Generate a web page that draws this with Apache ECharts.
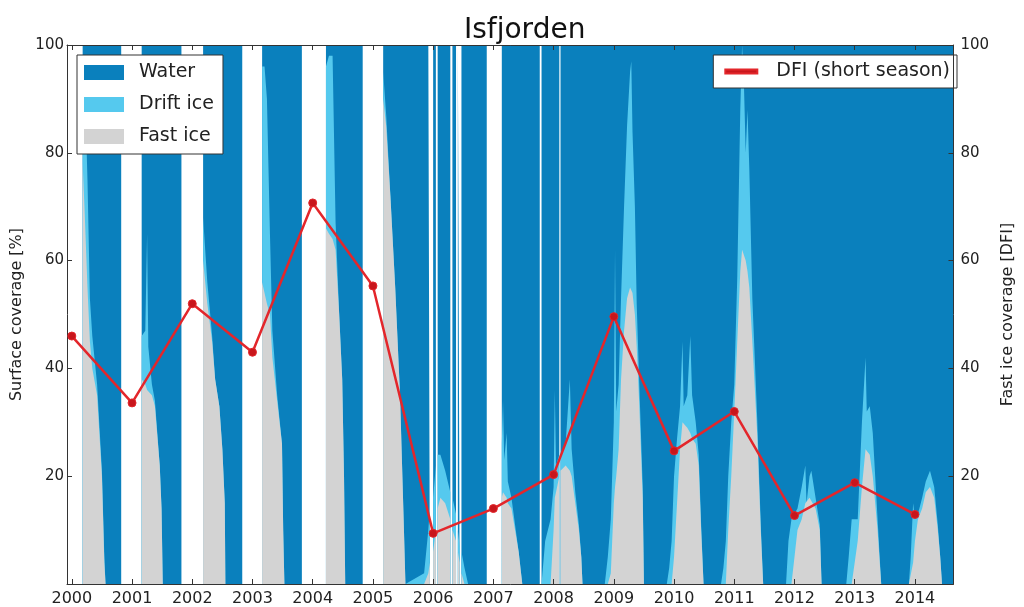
<!DOCTYPE html>
<html><head><meta charset="utf-8">
<script src="https://cdn.jsdelivr.net/npm/echarts@6/dist/echarts.min.js"></script>
<style>html,body{margin:0;padding:0;background:#fff}#c{width:1024px;height:607px}</style>
</head><body><div id="c"></div>
<script>
// ---- data ----
const yearTicks = [2000,2001,2002,2003,2004,2005,2006,2007,2008,2009,2010,2011,2012,2013,2014];
const yTicks = [0,20,40,60,80,100];
const dfiYears = [2000,2001,2002,2003,2004,2005,2006,2007,2008,2009,2010,2011,2012,2013,2014];
const dfiValues = [46,33.6,52,43,70.7,55.3,9.4,14,20.3,49.6,24.7,32,12.7,18.8,12.9];

// time (decimal year), fast ice %, drift ice % ; null = no observation
const t = [
2000.18,2000.21,2000.26,2000.30,2000.34,2000.42,2000.50,2000.54,2000.56,2000.82,2001.00,
2001.16,2001.22,2001.25,2001.27,2001.33,2001.38,2001.46,2001.49,2001.51,2001.82,2002.00,
2002.18,2002.25,2002.33,2002.38,2002.45,2002.50,2002.54,2002.55,2002.83,2003.00,
2003.16,2003.20,2003.24,2003.29,2003.33,2003.41,2003.49,2003.51,2003.53,2003.82,2004.00,
2004.22,2004.27,2004.33,2004.38,2004.44,2004.49,2004.52,2004.54,2004.83,2005.00,
2005.17,2005.22,2005.29,2005.37,2005.45,2005.51,2005.54,2005.85,2005.92,2005.945,2005.97,
2006.00,2006.045,2006.06,2006.075,2006.12,2006.20,2006.285,2006.30,2006.32,2006.38,2006.395,
2006.41,2006.44,2006.455,2006.47,2006.52,2006.58,2006.89,2006.93,2006.985,2006.995,2007.07,
2007.14,2007.16,2007.18,2007.22,2007.24,2007.30,2007.36,2007.42,2007.46,2007.48,2007.77,2007.785,
2007.80,2007.86,2007.95,2008.00,2008.02,2008.04,2008.095,2008.105,2008.115,2008.20,2008.27,2008.30,
2008.36,2008.42,2008.46,2008.48,2008.85,2008.90,2008.95,
2009.00,2009.02,2009.04,2009.08,2009.12,2009.17,2009.22,2009.27,2009.29,2009.31,2009.35,2009.38,
2009.42,2009.48,2009.50,2009.88,2009.92,2009.96,
2010.00,2010.05,2010.10,2010.14,2010.16,2010.22,2010.27,2010.30,2010.36,2010.41,2010.45,2010.49,
2010.78,2010.82,2010.86,2010.90,2010.95,
2011.00,2011.05,2011.10,2011.13,2011.16,2011.19,2011.22,2011.25,2011.30,2011.38,2011.44,2011.48,
2011.86,2011.90,2011.95,
2012.05,2012.12,2012.18,2012.20,2012.25,2012.28,2012.35,2012.42,2012.45,
2012.86,2012.90,2012.95,
2013.05,2013.12,2013.18,2013.20,2013.25,2013.30,2013.38,2013.44,
2013.90,2013.93,2013.97,
2014.00,2014.05,2014.12,2014.18,2014.25,2014.32,2014.38,2014.42,2014.45,2014.64
];
const fastIce = [
78,70,55,45,40,35,20,4,0,0,null,
38,37,36,36,35,33,22,14,0,0,null,
60,52,45,38,33,25,15,0,0,null,
56,54,52,50,42,34,26,10,0,0,null,
66,65,64,62,50,38,20,0,0,null,
90,85,72,55,35,12,0,0,2,4,null,
6,10,null,14,16,15,12,null,10,8,null,
6,4,null,2,0,0,0,null,0,0,null,
16,17,17,16,15,14,10,6,2,0,0,null,
0,0,0,10,16,17,20,null,21,22,21,20,
15,10,5,0,0,0,2,
15,18,20,25,38,47,53,55,55,54,50,44,
34,16,0,0,0,0,
5,15,25,30,30,29,28,27,26,22,10,0,
0,0,0,10,20,
32,45,58,62,62,60,58,55,45,28,10,0,
0,0,0,
10,12,15,15,16,16,14,10,0,
0,0,0,
8,18,25,25,24,20,10,0,
0,0,4,
8,12,14,17,18,16,10,5,0,0
];
const driftIce = [
20,25,20,8,6,2,1,1,0,0,null,
8,10,29,8,2,1,0,0,0,0,null,
8,4,1,0,0,0,0,0,0,null,
40,42,38,15,5,1,0,0,0,0,null,
30,33,34,5,0,0,0,0,0,null,
5,2,0,0,0,0,0,2,8,10,null,
10,12,null,10,8,6,5,null,6,5,null,
4,3,null,4,3,0,0,null,0,0,null,
10,17,6,12,4,2,1,0,0,0,0,null,
0,8,12,8,20,5,4,null,3,4,17,5,
2,1,0,0,0,5,10,
15,44,12,12,15,23,32,40,42,30,20,8,
4,2,0,0,3,8,
15,12,8,15,3,6,18,8,4,2,1,0,
0,3,8,10,10,
5,12,30,38,31,20,30,22,8,3,1,0,
0,8,12,
4,6,7,0,4,5,2,1,0,
0,5,12,
4,12,17,7,9,8,2,0,
0,5,11,
4,1,2,2,3,2,1,0,0,0
];

// ---- derived series (stacked by hand: fast, fast+drift, 100) ----
const waterSeries = t.map((x,i)=>[x, fastIce[i]==null ? '-' : 100]);
const driftSeries = t.map((x,i)=>[x, fastIce[i]==null ? '-' : fastIce[i] + driftIce[i]]);
const fastSeries  = t.map((x,i)=>[x, fastIce[i]==null ? '-' : fastIce[i]]);
const dfiSeries   = dfiYears.map((y,i)=>[y, dfiValues[i]]);

const FONT = 'DejaVu Sans';
const C_WATER = '#0a80bd', C_DRIFT = '#55c9ee', C_FAST = '#d3d3d3', C_RED = '#e3262b';

const areaSeries = (name, data, color, z) => ({
  name, type:'line', data, xAxisIndex:0, yAxisIndex:0,
  symbol:'none', showSymbol:false, connectNulls:false, silent:true,
  lineStyle:{width:0, color}, itemStyle:{color}, areaStyle:{color, opacity:1}, z
});

const xCommon = {
  type:'value', min:1999.92, max:2014.64, splitLine:{show:false}, z:6,
  axisLine:{show:true, onZero:false, lineStyle:{color:'#333', width:1}}
};

const chart = echarts.init(document.getElementById('c'), null, {renderer:'canvas'});
chart.setOption({
  animation:false,
  backgroundColor:'#ffffff',
  textStyle:{fontFamily:FONT},
  title:{text:'Isfjorden', left:459, top:12,
    textStyle:{fontFamily:FONT, fontSize:28, fontWeight:'normal', color:'#111'}},
  grid:{left:67, right:58, top:45, bottom:20, containLabel:false},
  legend:[
    {data:['Water','Drift ice','Fast ice'], orient:'vertical', left:77, top:55,
     icon:'rect', itemWidth:40, itemHeight:15, itemGap:13, padding:[8,9,8,7],
     backgroundColor:'#fff', borderColor:'#333', borderWidth:1, selectedMode:false,
     textStyle:{fontFamily:FONT, fontSize:19, color:'#222', padding:[0,0,0,10]}},
    {data:['DFI (short season)'], orient:'horizontal', right:67, top:55,
     icon:'rect', itemWidth:32, itemHeight:4, padding:[7,7,7,11],
     backgroundColor:'#fff', borderColor:'#333', borderWidth:1, selectedMode:false,
     textStyle:{fontFamily:FONT, fontSize:19, color:'#222', padding:[0,0,0,14]}}
  ],
  xAxis:[
    Object.assign({}, xCommon, {position:'bottom',
      axisTick:{show:true, inside:true, length:5, customValues:yearTicks, lineStyle:{color:'#333'}},
      axisLabel:{show:true, customValues:yearTicks, margin:7, fontSize:16, color:'#222', fontFamily:FONT,
        formatter:v=>String(Math.round(v))}}),
    Object.assign({}, xCommon, {position:'top',
      axisTick:{show:true, inside:true, length:5, customValues:yearTicks, lineStyle:{color:'#333'}},
      axisLabel:{show:false}})
  ],
  yAxis:[
    {type:'value', min:0, max:100, interval:20, position:'left', z:6,
     name:'Surface coverage [%]', nameLocation:'middle', nameGap:41,
     nameTextStyle:{fontFamily:FONT, fontSize:16, color:'#222'},
     axisLine:{show:true, lineStyle:{color:'#333'}},
     axisTick:{show:true, inside:true, length:5, lineStyle:{color:'#333'}},
     axisLabel:{showMinLabel:false, margin:3, fontSize:15, color:'#222', fontFamily:FONT},
     splitLine:{show:false}},
    {type:'value', min:0, max:100, interval:20, position:'right', z:6,
     name:'Fast ice coverage [DFI]', nameLocation:'middle', nameGap:46,
     nameTextStyle:{fontFamily:FONT, fontSize:16, color:'#222'},
     axisLine:{show:true, lineStyle:{color:'#333'}},
     axisTick:{show:true, inside:true, length:5, lineStyle:{color:'#333'}},
     axisLabel:{showMinLabel:false, margin:7, fontSize:15, color:'#222', fontFamily:FONT},
     splitLine:{show:false}}
  ],
  series:[
    areaSeries('Water', waterSeries, C_WATER, 2),
    areaSeries('Drift ice', driftSeries, C_DRIFT, 3),
    areaSeries('Fast ice', fastSeries, C_FAST, 4),
    {name:'DFI (short season)', type:'line', data:dfiSeries, xAxisIndex:0, yAxisIndex:1,
     symbol:'circle', symbolSize:8, showSymbol:true,
     lineStyle:{color:C_RED, width:2.5}, itemStyle:{color:'#c8161c', borderColor:C_RED, borderWidth:1}, z:10}
  ]
});
</script>
</body></html>
